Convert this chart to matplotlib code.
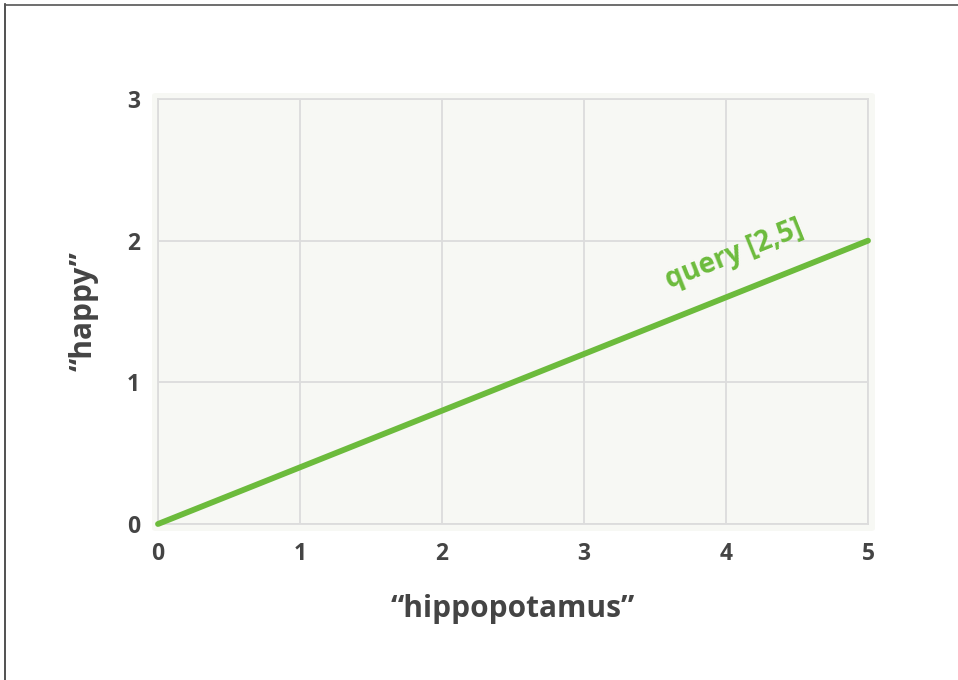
import matplotlib
matplotlib.use("Agg")
import matplotlib.pyplot as plt
from matplotlib.patches import FancyBboxPatch
from matplotlib.lines import Line2D

x_vals = [0, 5]
y_vals = [0, 2]
x_ticks = [0, 1, 2, 3, 4, 5]
y_ticks = [0, 1, 2, 3]
line_label = "query [2,5]"
x_label = "\u201chippopotamus\u201d"
y_label = "\u201chappy\u201d"

green = "#6cbb3c"
text_gray = "#444444"
grid_gray = "#dcdcdc"

plt.rcParams['font.family'] = ['Open Sans', 'DejaVu Sans']

fig = plt.figure(figsize=(9.58, 6.80), dpi=100)
ax = fig.add_axes([158/958, (680-524)/680, 710/958, 425/680])

# background panel slightly larger than axes
panel = FancyBboxPatch((152/958, (680-531)/680), 723/958, 438/680,
                       boxstyle="round,pad=0,rounding_size=0.004",
                       transform=fig.transFigure, facecolor="#f7f8f4",
                       edgecolor="none", zorder=-5, clip_on=False)
ax.add_artist(panel)
ax.set_facecolor("none")

ax.set_xlim(0, 5)
ax.set_ylim(0, 3)
ax.set_xticks(x_ticks)
ax.set_yticks(y_ticks)
ax.set_axisbelow(True)
ax.grid(True, color=grid_gray, linewidth=1.3)
for s in ax.spines.values():
    s.set_color(grid_gray)
    s.set_linewidth(1.3)
ax.tick_params(length=0, labelsize=16.5, labelcolor=text_gray)
ax.tick_params(axis='x', pad=13)
ax.tick_params(axis='y', pad=13)
for lbl in ax.get_xticklabels() + ax.get_yticklabels():
    lbl.set_fontweight('bold')

ax.plot(x_vals, y_vals, color=green, linewidth=4.2, solid_capstyle='round',
        clip_on=False, zorder=3)

ax.text(4.06, 1.9, line_label, color=green, fontsize=20, fontweight='bold',
        rotation=21.8, rotation_mode='anchor', ha='center', va='center')

ax.set_xlabel(x_label, fontsize=21.5, fontweight='bold', color=text_gray, labelpad=20)
ax.set_ylabel(y_label, fontsize=21.5, fontweight='bold', color=text_gray, labelpad=20)

# thin border on left and top (screenshot frame)
fig.add_artist(Line2D([4.5/958, 4.5/958], [0, 1-4/680], transform=fig.transFigure,
                      color="#333333", linewidth=1.2))
fig.add_artist(Line2D([4.5/958, 1], [1-4.5/680, 1-4.5/680], transform=fig.transFigure,
                      color="#555555", linewidth=1.2))

fig.savefig("out.png", dpi=100)
